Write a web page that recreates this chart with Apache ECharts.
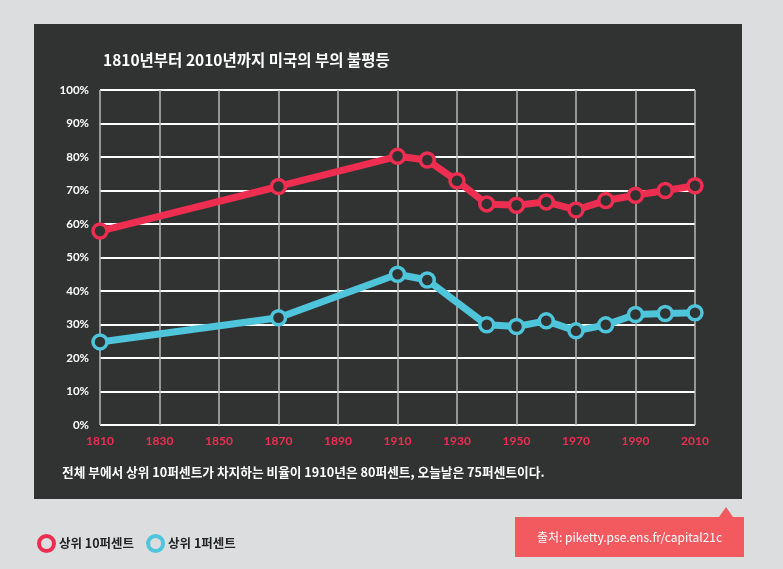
<!DOCTYPE html>
<html><head><meta charset="utf-8">
<script src="https://cdn.jsdelivr.net/npm/echarts@6/dist/echarts.min.js"></script>
<style>html,body{margin:0;padding:0;background:#dcdddf}#c{width:783px;height:569px}</style>
</head><body><div id="c"></div>
<script>
const years10 = [1810, 1870, 1910, 1920, 1930, 1940, 1950, 1960, 1970, 1980, 1990, 2000, 2010];
const top10 = [57.9, 71.2, 80.2, 79.1, 72.9, 66.0, 65.6, 66.6, 64.2, 67.0, 68.6, 70.0, 71.4];
const years1 = [1810, 1870, 1910, 1920, 1940, 1950, 1960, 1970, 1980, 1990, 2000, 2010];
const top1 = [24.8, 32.0, 45.0, 43.3, 29.9, 29.4, 31.1, 28.1, 29.9, 33.0, 33.3, 33.5];
const seriesNames = ['상위 10퍼센트', '상위 1퍼센트'];
const titleText = '1810년부터 2010년까지 미국의 부의 불평등';
const captionText = '전체 부에서 상위 10퍼센트가 차지하는 비율이 1910년은 80퍼센트, 오늘날은 75퍼센트이다.';
const sourceText = '출처: piketty.pse.ens.fr/capital21c';

const RED = '#ee2e50', BLUE = '#4ec5db', PANEL = '#313232';
const KR = '"Noto Sans CJK KR", sans-serif';
const chart = echarts.init(document.getElementById('c'));
const pair = (xs, ys) => xs.map((x, i) => [x, ys[i]]);
const mkSeries = (name, data, color) => ({
  name, type: 'line', data,
  lineStyle: {color, width: 7},
  itemStyle: {color: PANEL, borderColor: color, borderWidth: 3.5},
  symbol: 'circle', symbolSize: 14, showSymbol: true,
  emphasis: {disabled: true}, z: 3
});
chart.setOption({
  backgroundColor: '#dcdddf',
  animation: false,
  graphic: [
    {type: 'rect', shape: {x: 34, y: 24, width: 708, height: 475}, style: {fill: PANEL}, z: -10},
    {type: 'rect', shape: {x: 515, y: 517, width: 229, height: 40}, style: {fill: '#f25a5f'}},
    {type: 'polygon', shape: {points: [[719, 517], [726, 507], [733, 517]]}, style: {fill: '#f25a5f'}},
    {type: 'text', x: 629.5, y: 537, style: {text: sourceText, fill: '#fff', font: '12px ' + KR, align: 'center', verticalAlign: 'middle'}},
    {type: 'text', x: 103, y: 60, style: {text: titleText, fill: '#fff', font: 'bold 15.5px ' + KR, verticalAlign: 'middle'}},
    {type: 'text', x: 62, y: 472, style: {text: captionText, fill: '#fff', font: 'bold 12.7px ' + KR, verticalAlign: 'middle'}}
  ],
  legend: {
    left: 32, top: 529, itemGap: 12, itemWidth: 15, itemHeight: 15, icon: 'circle',
    textStyle: {color: '#222', fontFamily: KR, fontWeight: 'bold', fontSize: 12.5},
    data: [
      {name: seriesNames[0], itemStyle: {color: '#dcdddf', borderColor: RED, borderWidth: 4}},
      {name: seriesNames[1], itemStyle: {color: '#dcdddf', borderColor: BLUE, borderWidth: 4}}
    ],
    selectedMode: false
  },
  grid: {left: 100, right: 88, top: 90, bottom: 144},
  xAxis: {
    type: 'value', min: 1810, max: 2010, interval: 20,
    axisLine: {show: false}, axisTick: {show: false},
    axisLabel: {color: RED, fontFamily: 'Lato, sans-serif', fontWeight: 'bold', fontSize: 12, margin: 10, formatter: v => String(v)},
    splitLine: {show: true, lineStyle: {color: '#b8b8b8', width: 1.5}}
  },
  yAxis: {
    type: 'value', min: 0, max: 100, interval: 10,
    axisLine: {show: false}, axisTick: {show: false},
    axisLabel: {color: '#fff', fontFamily: 'Lato, sans-serif', fontWeight: 'bold', fontSize: 11.5, margin: 11, formatter: v => v + '%'},
    splitLine: {show: true, lineStyle: {color: '#fff', width: 2}}
  },
  series: [
    mkSeries(seriesNames[0], pair(years10, top10), RED),
    mkSeries(seriesNames[1], pair(years1, top1), BLUE)
  ]
});
</script></body></html>
